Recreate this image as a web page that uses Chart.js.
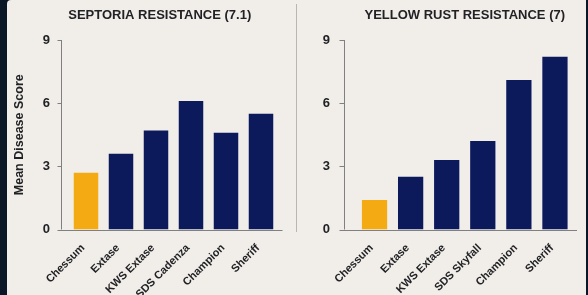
<!DOCTYPE html>
<html>
<head>
<meta charset="utf-8">
<script src="https://cdn.jsdelivr.net/npm/chart.js@4.4.1/dist/chart.umd.min.js"></script>
<style>
  html, body { margin: 0; padding: 0; background: #0b1626; }
  .wrap { position: relative; width: 588px; height: 295px; background: #0b1626; overflow: hidden; }
  .panel { position: absolute; left: 7px; top: 0; width: 579px; height: 295px; background: #f1eee9; border-radius: 4px 0 0 0; }
  .divider { position: absolute; left: 296px; top: 4px; width: 1px; height: 228px; background: #b9b6b1; }
  #septoriaChart { position: absolute; left: 0; top: 0; }
  #rustChart { position: absolute; left: 297px; top: 0; }
</style>
</head>
<body>
<div class="wrap">
  <div class="panel"></div>
  <div class="divider"></div>
  <canvas id="septoriaChart" width="296" height="295"></canvas>
  <canvas id="rustChart" width="291" height="295"></canvas>
</div>
<script>
const septoriaVarieties = ['Chessum', 'Extase', 'KWS Extase', 'SDS Cadenza', 'Champion', 'Sheriff'];
const septoriaScores = [2.7, 3.6, 4.7, 6.1, 4.6, 5.5];
const rustVarieties = ['Chessum', 'Extase', 'KWS Extase', 'SDS Skyfall', 'Champion', 'Sheriff'];
const rustScores = [1.4, 2.5, 3.3, 4.2, 7.1, 8.2];
const yMax = 9;
const yStep = 3;

const gold = '#f4aa12';
const navy = '#0c1a5c';
const axisGrey = '#808083';
const textDark = '#222226';

Chart.defaults.font.family = '"Liberation Sans", Arial, sans-serif';
Chart.defaults.color = textDark;

// axis lines drawn a few px left of the first bar, like the reference
const axisLines = {
  id: 'axisLines',
  afterDatasetsDraw(chart, args, opts) {
    const { ctx, chartArea, scales } = chart;
    const ax = Math.round(chartArea.left - opts.gap) + 0.5;
    ctx.save();
    ctx.strokeStyle = axisGrey;
    ctx.lineWidth = 1;
    ctx.beginPath();
    ctx.moveTo(ax, scales.y.getPixelForValue(yMax));
    ctx.lineTo(ax, scales.y.getPixelForValue(0));
    scales.y.ticks.forEach(t => {
      const py = Math.round(scales.y.getPixelForValue(t.value)) + 0.5;
      ctx.moveTo(ax - opts.tick, py);
      ctx.lineTo(ax, py);
    });
    const by = Math.round(scales.y.getPixelForValue(0)) + 0.5;
    ctx.moveTo(ax - 3, by);
    ctx.lineTo(chartArea.right + 4, by);
    ctx.stroke();
    ctx.restore();
  }
};

function makeChart(id, title, labels, values, cfg) {
  const colors = values.map((v, i) => i === 0 ? gold : navy);
  return new Chart(document.getElementById(id), {
    type: 'bar',
    data: {
      labels: labels,
      datasets: [{
        data: values,
        backgroundColor: colors,
        barPercentage: 0.7,
        categoryPercentage: 1
      }]
    },
    options: {
      responsive: false,
      animation: false,
      layout: { padding: { left: cfg.padLeft, right: cfg.padRight, top: 0, bottom: 0 } },
      plugins: {
        legend: { display: false },
        tooltip: { enabled: false },
        title: {
          display: true,
          text: title,
          color: textDark,
          fullSize: cfg.titleFull,
          font: { size: 13, weight: 'bold' },
          padding: { top: 8, bottom: 16.4 }
        },
        axisLines: { gap: cfg.gap, tick: cfg.tick }
      },
      scales: {
        x: {
          grid: { display: false, drawTicks: false },
          border: { display: false },
          ticks: {
            autoSkip: false,
            minRotation: 45,
            maxRotation: 45,
            padding: 12,
            labelOffset: -3,
            color: textDark,
            font: { size: 11, weight: 'bold' }
          },
          afterFit: s => { s.height = 65.5; }
        },
        y: {
          min: 0,
          max: yMax,
          grid: { display: false, drawTicks: false },
          border: { display: false },
          ticks: {
            stepSize: yStep,
            autoSkip: false,
            padding: cfg.tickPad,
            color: textDark,
            font: { size: 13, weight: 'bold' }
          },
          title: {
            display: cfg.yTitle,
            text: 'Mean Disease Score',
            color: textDark,
            font: { size: 12.5, weight: 'bold' },
            padding: { top: cfg.titlePad, bottom: 0 }
          },
          afterFit: s => { s.width = cfg.yWidth; }
        }
      }
    },
    plugins: [axisLines]
  });
}

makeChart('septoriaChart', 'SEPTORIA RESISTANCE (7.1)', septoriaVarieties, septoriaScores,
  { padLeft: 41, padRight: 17.5, yWidth: 27.5, tickPad: 18.5, gap: 7.5, tick: 4,
    yTitle: true, titlePad: -28.5, titleFull: true });
makeChart('rustChart', 'YELLOW RUST RESISTANCE (7)', rustVarieties, rustScores,
  { padLeft: 20, padRight: 15, yWidth: 39.5, tickPad: 26.5, gap: 13, tick: 5,
    yTitle: false, titlePad: 0, titleFull: false });
</script>
</body>
</html>
